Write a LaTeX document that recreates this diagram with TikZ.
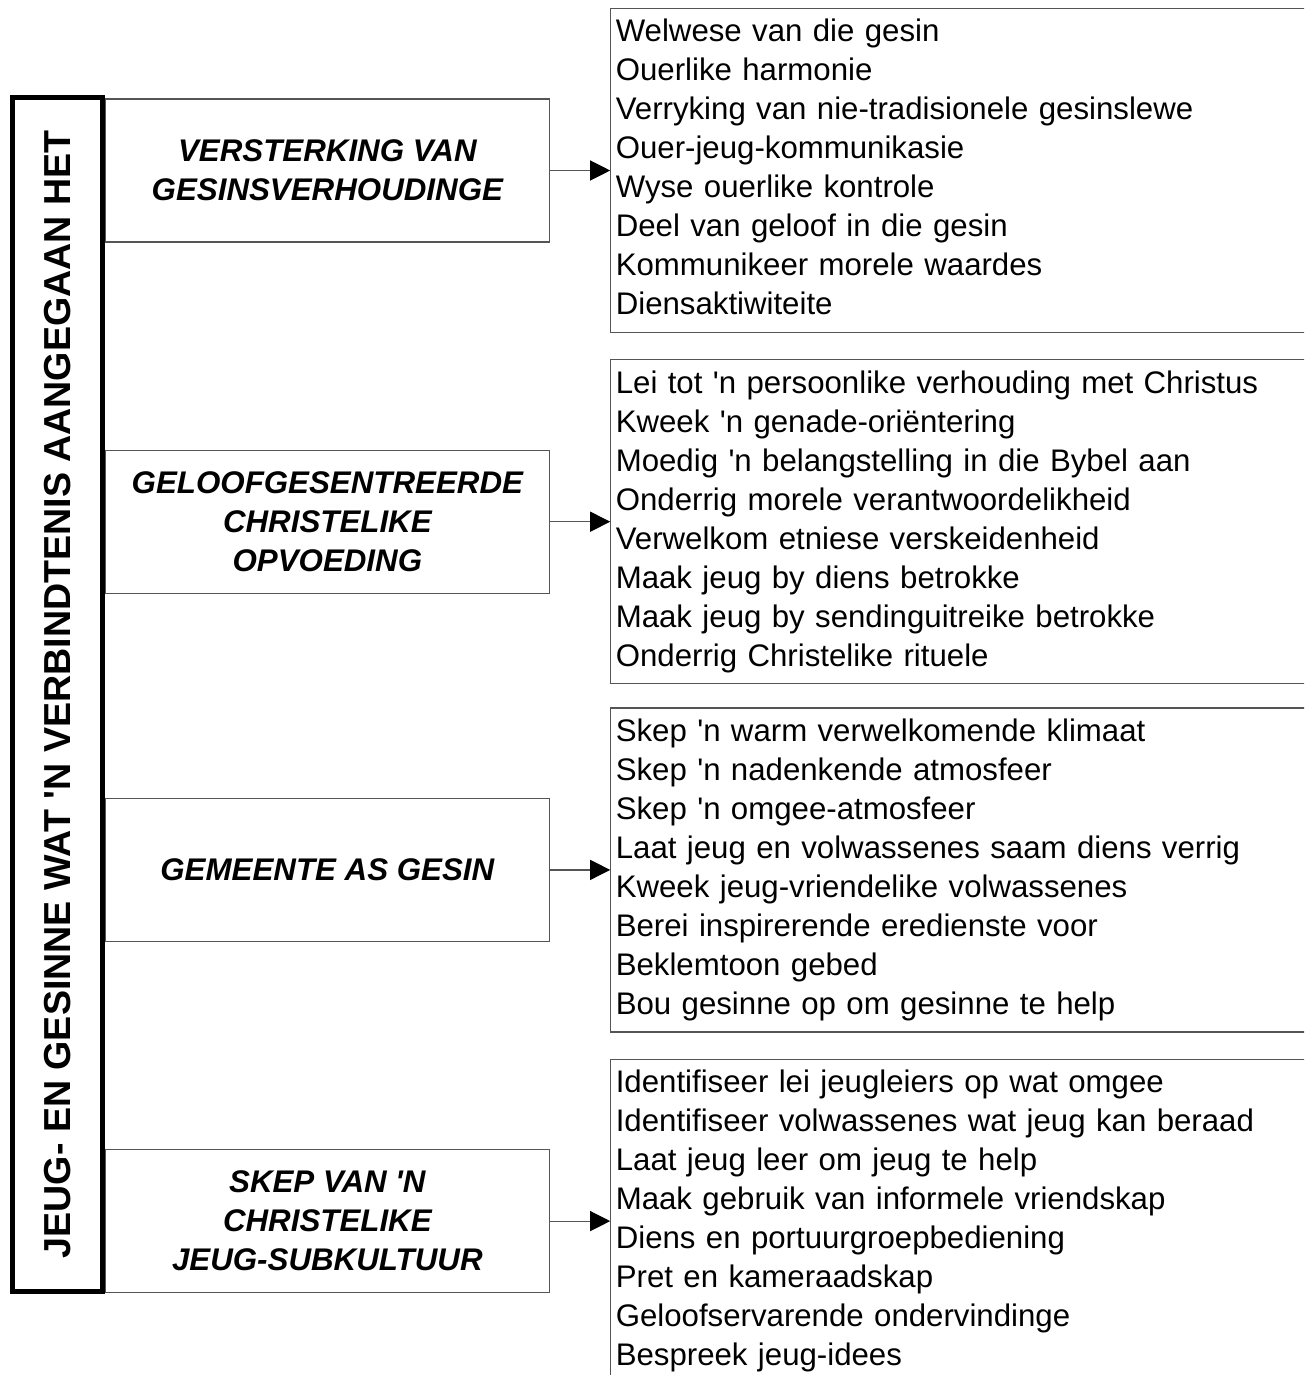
\documentclass[tikz,border=0pt]{standalone}
\usepackage{fontspec}
\setmainfont{Liberation Sans}
\usetikzlibrary{positioning,arrows.meta}
\definecolor{linegray}{RGB}{85,85,85}

\begin{document}
\begin{tikzpicture}[
  x=1pt,y=-1pt,
  mainbox/.style={draw,line width=5pt,rotate=90,minimum width=1193.5pt,minimum height=90.5pt,inner sep=0pt,font=\fontsize{37.6}{44}\selectfont\bfseries},
  topicbox/.style={draw=linegray,line width=1.2pt,minimum width=444.5pt,minimum height=143pt,align=center,inner sep=0pt,font=\fontsize{31.3}{39}\selectfont\bfseries\itshape},
  listbox/.style={draw=linegray,line width=1.2pt,text width=700pt,minimum height=324pt,align=left,inner xsep=5pt,inner ysep=0pt,font=\fontsize{31.2}{39}\selectfont},
  arr/.style={draw=linegray,line width=1.2pt,-{Triangle[length=20pt,width=20pt,color=black]}}
]
\path[use as bounding box,clip] (0,0) rectangle (1304,1375);

\node[mainbox] (main) at (57.25,694.25) {JEUG- EN GESINNE WAT \textquotesingle N VERBINDTENIS AANGEGAAN HET};

\node[topicbox,anchor=west] (verhouding) at (104.5,170.5) {VERSTERKING VAN\\GESINSVERHOUDINGE};
\node[topicbox,below=207pt of verhouding] (opvoeding) {GELOOFGESENTREERDE\\CHRISTELIKE\\OPVOEDING};
\node[topicbox,below=204pt of opvoeding] (gemeente) {GEMEENTE AS GESIN};
\node[topicbox,below=207pt of gemeente] (subkultuur) {SKEP VAN \textquotesingle N\\CHRISTELIKE\\JEUG-SUBKULTUUR};

\node[listbox,right=60pt of verhouding] (verhoudinglys) {\strut Welwese van die gesin\\
  Ouerlike harmonie\\
  Verryking van nie-tradisionele gesinslewe\\
  Ouer-jeug-kommunikasie\\
  Wyse ouerlike kontrole\\
  Deel van geloof in die gesin\\
  Kommunikeer morele waardes\\
  Diensaktiwiteite\strut};
\node[listbox,right=60pt of opvoeding] (opvoedinglys) {\strut Lei tot \textquotesingle n persoonlike verhouding met Christus\\
  Kweek \textquotesingle n genade-oriëntering\\
  Moedig \textquotesingle n belangstelling in die Bybel aan\\
  Onderrig morele verantwoordelikheid\\
  Verwelkom etniese verskeidenheid\\
  Maak jeug by diens betrokke\\
  Maak jeug by sendinguitreike betrokke\\
  Onderrig Christelike rituele\strut};
\node[listbox,right=60pt of gemeente] (gemeentelys) {\strut Skep \textquotesingle n warm verwelkomende klimaat\\
  Skep \textquotesingle n nadenkende atmosfeer\\
  Skep \textquotesingle n omgee-atmosfeer\\
  Laat jeug en volwassenes saam diens verrig\\
  Kweek jeug-vriendelike volwassenes\\
  Berei inspirerende eredienste voor\\
  Beklemtoon gebed\\
  Bou gesinne op om gesinne te help\strut};
\node[listbox,right=60pt of subkultuur] (subkultuurlys) {\strut Identifiseer lei jeugleiers op wat omgee\\
  Identifiseer volwassenes wat jeug kan beraad\\
  Laat jeug leer om jeug te help\\
  Maak gebruik van informele vriendskap\\
  Diens en portuurgroepbediening\\
  Pret en kameraadskap\\
  Geloofservarende ondervindinge\\
  Bespreek jeug-idees\strut};

\draw[arr] (verhouding) -- (verhoudinglys);
\draw[arr] (opvoeding) -- (opvoedinglys);
\draw[arr] (gemeente) -- (gemeentelys);
\draw[arr] (subkultuur) -- (subkultuurlys);
\end{tikzpicture}
\end{document}
